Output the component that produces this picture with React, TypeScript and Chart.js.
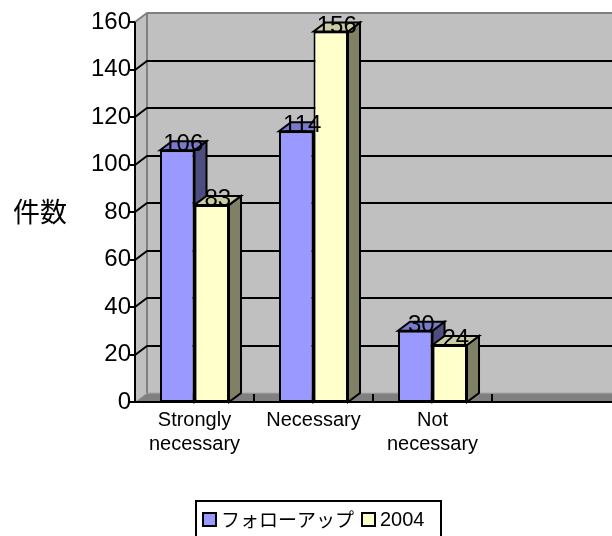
import { useEffect, useRef } from 'react';
import { Chart, registerables } from 'chart.js';

Chart.register(...registerables);

// Survey answers (件数) for the follow-up survey and the 2004 survey
const categories: (string | string[])[] = [['Strongly', 'necessary'], 'Necessary', ['Not', 'necessary'], ''];
const followUp: (number | null)[] = [106, 114, 30, null];
const survey2004: (number | null)[] = [83, 156, 24, null];
const seriesNames = ['フォローアップ', '2004'];
const yTicks = [0, 20, 40, 60, 80, 100, 120, 140, 160];
const axisTitle = '件数';

const DX = 12; // depth offset to the right
const DY = 9; // depth offset upwards
const LATIN = '"Liberation Sans", Arial, sans-serif';
const CJK = '"Noto Sans CJK JP", "Noto Sans CJK SC", sans-serif';

const faces = [
  { front: '#9999FF', top: '#7A7ACC', side: '#4D4D80' },
  { front: '#FFFFCC', top: '#CCCCA3', side: '#808066' },
];

const box3d = {
  id: 'box3d',
  beforeDatasetsDraw(chart: any) {
    const { ctx, chartArea: a, scales } = chart;
    const ys = scales.y;
    const xs = scales.x;
    const W = chart.width;
    ctx.save();

    // walls
    ctx.fillStyle = '#C0C0C0';
    ctx.beginPath();
    ctx.moveTo(a.left, a.top);
    ctx.lineTo(a.left + DX, a.top - DY);
    ctx.lineTo(W, a.top - DY);
    ctx.lineTo(W, a.bottom);
    ctx.lineTo(a.left, a.bottom);
    ctx.closePath();
    ctx.fill();

    // floor
    ctx.fillStyle = '#808080';
    ctx.beginPath();
    ctx.moveTo(a.left, a.bottom);
    ctx.lineTo(a.left + DX, a.bottom - DY);
    ctx.lineTo(W, a.bottom - DY);
    ctx.lineTo(W, a.bottom);
    ctx.closePath();
    ctx.fill();

    ctx.lineWidth = 1;
    ctx.strokeStyle = '#A8A8A8';
    ctx.beginPath();
    ctx.moveTo(a.left, a.bottom);
    ctx.lineTo(a.left + DX, a.bottom - DY);
    ctx.lineTo(W, a.bottom - DY);
    ctx.stroke();

    // wall edges
    ctx.lineWidth = 2;
    ctx.strokeStyle = '#808080';
    ctx.beginPath();
    ctx.moveTo(a.left + DX, a.bottom - DY);
    ctx.lineTo(a.left + DX, a.top - DY);
    ctx.moveTo(a.left, a.top);
    ctx.lineTo(a.left + DX, a.top - DY);
    ctx.lineTo(W, a.top - DY);
    ctx.stroke();

    // gridlines on side and back wall
    ctx.strokeStyle = '#000';
    ctx.lineWidth = 2;
    yTicks.forEach((v) => {
      if (v === yTicks[0] || v === yTicks[yTicks.length - 1]) return;
      const py = Math.round(ys.getPixelForValue(v));
      ctx.beginPath();
      ctx.moveTo(a.left, py);
      ctx.lineTo(a.left + DX, py - DY);
      ctx.lineTo(W, py - DY);
      ctx.stroke();
    });

    // tick marks
    yTicks.forEach((v) => {
      const py = Math.round(ys.getPixelForValue(v));
      ctx.beginPath();
      ctx.moveTo(a.left - 5, py);
      ctx.lineTo(a.left, py);
      ctx.stroke();
    });

    // front axis lines
    ctx.beginPath();
    ctx.moveTo(a.left, a.top);
    ctx.lineTo(a.left, a.bottom);
    ctx.lineTo(W, a.bottom);
    ctx.stroke();

    // category separators on the floor
    for (let i = 1; i < categories.length; i++) {
      const bx = (xs.getPixelForValue(i - 1) + xs.getPixelForValue(i)) / 2;
      ctx.beginPath();
      ctx.moveTo(bx, a.bottom - 8);
      ctx.lineTo(bx, a.bottom);
      ctx.stroke();
    }

    // depth faces of bars
    ctx.lineJoin = 'miter';
    chart.data.datasets.forEach((ds: any, d: number) => {
      const meta = chart.getDatasetMeta(d);
      meta.data.forEach((el: any, i: number) => {
        if (ds.data[i] == null) return;
        const { x, y, base, width } = el.getProps(['x', 'y', 'base', 'width'], true);
        const l = x - width / 2;
        const r = x + width / 2;
        ctx.fillStyle = faces[d].side;
        ctx.beginPath();
        ctx.moveTo(r, y);
        ctx.lineTo(r + DX, y - DY);
        ctx.lineTo(r + DX, base - DY);
        ctx.lineTo(r, base);
        ctx.closePath();
        ctx.fill();
        ctx.stroke();
        ctx.fillStyle = faces[d].top;
        ctx.beginPath();
        ctx.moveTo(l, y);
        ctx.lineTo(l + DX, y - DY);
        ctx.lineTo(r + DX, y - DY);
        ctx.lineTo(r, y);
        ctx.closePath();
        ctx.fill();
        ctx.stroke();
      });
    });
    ctx.restore();
  },
  afterDatasetsDraw(chart: any) {
    const { ctx } = chart;
    ctx.save();
    ctx.fillStyle = '#000';
    ctx.font = `24px ${LATIN}`;
    ctx.textAlign = 'center';
    ctx.textBaseline = 'alphabetic';
    chart.data.datasets.forEach((ds: any, d: number) => {
      const meta = chart.getDatasetMeta(d);
      meta.data.forEach((el: any, i: number) => {
        const v = ds.data[i];
        if (v == null) return;
        const { x, y } = el.getProps(['x', 'y'], true);
        ctx.fillText(String(v), x + DX / 2, y + 1);
      });
    });
    ctx.restore();
  },
  afterDraw(chart: any) {
    const { ctx } = chart;
    ctx.save();
    // axis title
    ctx.fillStyle = '#000';
    ctx.font = `27px ${CJK}`;
    ctx.textAlign = 'center';
    ctx.textBaseline = 'middle';
    ctx.fillText(axisTitle, 40, 212);

    // legend
    ctx.strokeStyle = '#000';
    ctx.lineWidth = 2;
    ctx.strokeRect(196, 501, 245, 60);
    let lx = 203;
    const ly = 519;
    chart.data.datasets.forEach((ds: any, d: number) => {
      ctx.fillStyle = faces[d].front;
      ctx.fillRect(lx, ly - 6, 13, 13);
      ctx.strokeRect(lx, ly - 6, 13, 13);
      lx += 18;
      ctx.fillStyle = '#000';
      ctx.font = `${d === 0 ? 19 : 20}px ${d === 0 ? CJK : LATIN}`;
      ctx.textAlign = 'left';
      ctx.fillText(ds.label, lx, ly + 1);
      lx += ctx.measureText(ds.label).width + 8;
    });
    ctx.restore();
  },
};

export default function App() {
  const ref = useRef<HTMLCanvasElement>(null);

  useEffect(() => {
    if (!ref.current) return;
    const chart = new Chart(ref.current, {
      type: 'bar',
      data: {
        labels: categories,
        datasets: [
          {
            label: seriesNames[0],
            data: followUp,
            backgroundColor: faces[0].front,
            borderColor: '#000',
            borderWidth: 2,
            borderSkipped: false,
          },
          {
            label: seriesNames[1],
            data: survey2004,
            backgroundColor: faces[1].front,
            borderColor: '#000',
            borderWidth: 2,
            borderSkipped: false,
          },
        ],
      },
      options: {
        responsive: false,
        animation: false,
        devicePixelRatio: 1,
        layout: { padding: { left: 0, top: 22, right: 1, bottom: 0 } },
        datasets: { bar: { categoryPercentage: 0.58, barPercentage: 1 } },
        plugins: { legend: { display: false }, tooltip: { enabled: false } },
        scales: {
          x: {
            grid: { display: false, drawTicks: false },
            border: { display: false },
            ticks: { color: '#000', font: { size: 20, family: LATIN }, padding: 6, maxRotation: 0, autoSkip: false },
            afterFit: (s: any) => {
              s.height = 134;
            },
          },
          y: {
            min: 0,
            max: 160,
            grid: { display: false, drawTicks: false },
            border: { display: false },
            ticks: { color: '#000', font: { size: 24, family: LATIN }, padding: 4 },
            afterBuildTicks: (s: any) => {
              s.ticks = yTicks.map((v) => ({ value: v }));
            },
            afterFit: (s: any) => {
              s.width = 135;
            },
          },
        },
      },
      plugins: [box3d],
    });
    return () => chart.destroy();
  }, []);

  return (
    <div style={{ position: 'absolute', left: 0, top: 0, width: 612, height: 536, background: '#fff' }}>
      <canvas ref={ref} width={612} height={536} />
    </div>
  );
}
